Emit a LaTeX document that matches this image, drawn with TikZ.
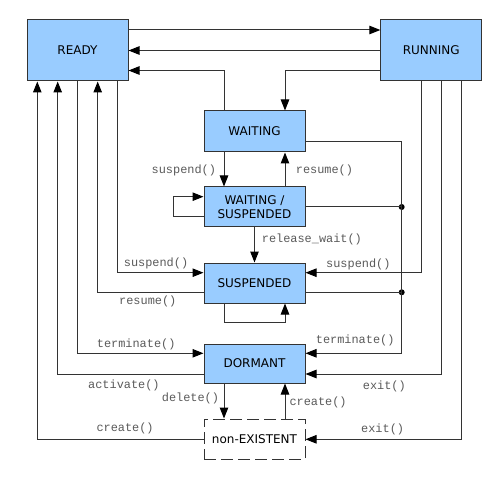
\documentclass[tikz,border=0pt]{standalone}
\usepackage{fontspec}
\setmainfont{DejaVu Sans}
\newfontfamily\labfont{Liberation Mono}
\usetikzlibrary{arrows.meta}
\definecolor{boxblue}{HTML}{99CCFF}
\definecolor{edge}{HTML}{333333}
\definecolor{labgray}{HTML}{5A5A5A}
\begin{document}
\begin{tikzpicture}[x=1pt,y=-1pt,
  state/.style={draw=edge,line width=1pt,fill=boxblue,inner sep=0pt,minimum width=101pt,minimum height=40pt,font=\fontsize{12}{14}\selectfont,align=center},
  ghost/.style={draw=edge,line width=1pt,dash pattern=on 12pt off 5pt,inner sep=0pt,minimum width=101pt,minimum height=40pt,font=\fontsize{12}{14}\selectfont},
  conn/.style={draw=edge,line width=1pt},
  arr/.style={conn,-{Triangle[length=11pt,width=8.5pt,fill=black,color=black]}},
  lab/.style={text=labgray,inner sep=0pt,font=\labfont\fontsize{11.9}{13}\selectfont},
  dot/.style={circle,fill=black,inner sep=0pt,minimum size=6pt}]
\useasboundingbox (0,0) rectangle (500,478);
\node[state,minimum height=61pt] (READY) at (77.5,50.5) {READY};
\node[state,minimum height=61pt] (RUNNING) at (431.3,50.5) {RUNNING};
\node[state,minimum height=41pt] (WAITING) at (254.5,131.5) {WAITING};
\node[state] (WS) at (254.5,207) {WAITING /\\SUSPENDED};
\node[state] (SUSP) at (254.5,283) {SUSPENDED};
\node[state,minimum height=39pt] (DORMANT) at (254.5,363.5) {DORMANT};
\node[ghost] (NE) at (254.5,439) {non-EXISTENT};
\node[dot] (j1) at (401.7,207) {};
\node[dot] (j2) at (401.7,292.3) {};
% top
\draw[arr] (READY.east |- 0,30) -- (RUNNING.west |- 0,30);
\draw[arr] (RUNNING.west) -- (READY.east);
\draw[arr] (WAITING.north -| 224,0) |- (READY.east |- 0,70.5);
\draw[arr] (RUNNING.west |- 0,70.5) -| (WAITING.north -| 285,0);
% middle column
\draw[arr] (WAITING.south -| 224,0) -- (WS.north -| 224,0);
\draw[arr] (WS.north -| 285,0) -- (WAITING.south -| 285,0);
\draw[arr] (WS.west |- 0,216.7) -- (173,216.7) -- (173,196.7) -- (WS.west |- 0,196.7);
\draw[arr] (WS.south) -- (SUSP.north);
\draw[arr] (SUSP.south -| 224,0) -- (224,322.7) -- (285,322.7) -- (SUSP.south -| 285,0);
\draw[arr] (DORMANT.south -| 224,0) -- (NE.north -| 224,0);
\draw[arr] (NE.north -| 285,0) -- (DORMANT.south -| 285,0);
% right junction
\draw[conn] (WAITING.east |- 0,141.7) -| (j1.center);
\draw[conn] (WS.east |- j1) -- (j1.center);
\draw[conn] (SUSP.east |- j2) -- (j2.center);
\draw[arr] (j1.center) -- (j2.center) |- (DORMANT.east |- 0,353.3);
% running lines
\draw[arr] (RUNNING.south -| 421.7,0) |- (SUSP.east |- 0,272.7);
\draw[arr] (RUNNING.south -| 441.7,0) |- (DORMANT.east |- 0,374);
\draw[arr] (RUNNING.south -| 461.7,0) |- (NE.east |- 0,439.3);
% ready lines
\draw[arr] (NE.west |- 0,439.3) -| (READY.south -| 37.3,0);
\draw[arr] (DORMANT.west |- 0,374) -| (READY.south -| 57.7,0);
\draw[arr] (READY.south -| 77.7,0) |- (DORMANT.west |- 0,353.3);
\draw[arr] (SUSP.west |- 0,292.3) -| (READY.south -| 97.7,0);
\draw[arr] (READY.south -| 117.7,0) |- (SUSP.west |- 0,272.7);
% labels
\node[lab,anchor=west] (l1) at (151.5,170.5) {suspend()};
\node[lab,anchor=west] (l2) at (295.7,170.5) {resume()};
\node[lab,anchor=west] (l3) at (261.7,239.3) {release\_wait()};
\node[lab,anchor=west] (l4) at (123.7,263.3) {suspend()};
\node[lab,anchor=west] (l5) at (119,301.7) {resume()};
\node[lab,anchor=west] (l6) at (96.7,344.3) {terminate()};
\node[lab,anchor=west] (l7) at (88,385) {activate()};
\node[lab,anchor=west] (l8) at (161.7,398.3) {delete()};
\node[lab,anchor=west] (l9) at (96.3,428.3) {create()};
\node[lab,anchor=west] (l10) at (326,264.3) {suspend()};
\node[lab,anchor=west] (l11) at (315.7,340) {terminate()};
\node[lab,anchor=west] (l12) at (362.7,386) {exit()};
\node[lab,anchor=west] (l13) at (289.3,402.7) {create()};
\node[lab,anchor=west] (l14) at (361,429) {exit()};
\end{tikzpicture}
\end{document}
